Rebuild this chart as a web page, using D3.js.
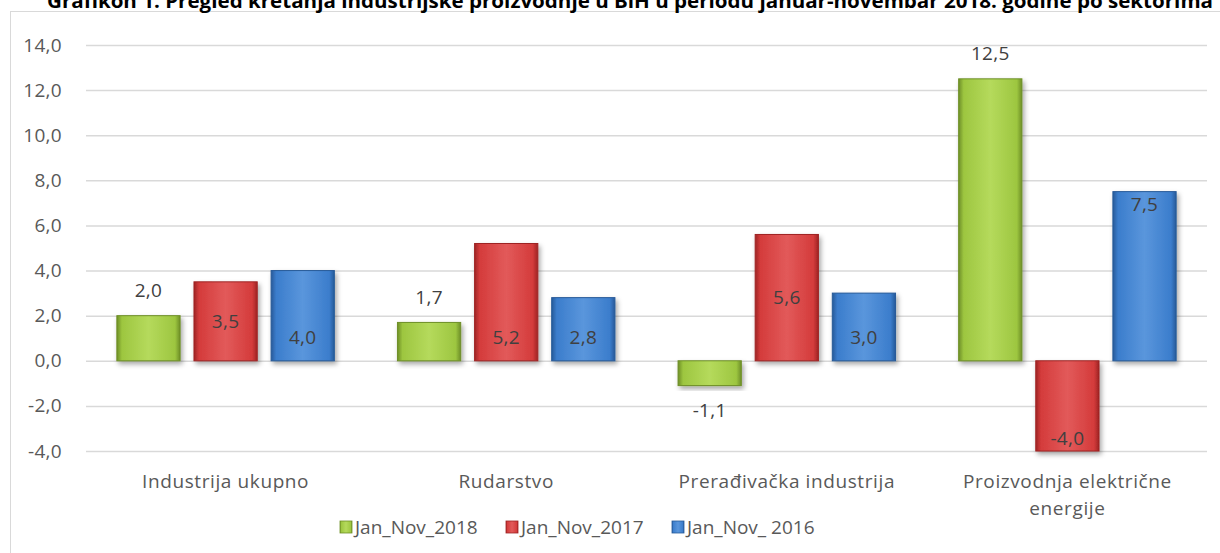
<!DOCTYPE html>
<html>
<head>
<meta charset="utf-8">
<script src="https://cdn.jsdelivr.net/npm/d3@7"></script>
<style>
  body { margin: 0; background: #fff; }
  svg { display: block; font-family: "Open Sans", "Noto Sans", sans-serif; }
</style>
</head>
<body>
<div id="chart"></div>
<script>
// chart data
const title = 'Grafikon 1. Pregled kretanja industrijske proizvodnje u BiH u periodu januar-novembar  2018. godine po sektorima';
const categories = ['Industrija ukupno', 'Rudarstvo', 'Prerađivačka industrija', 'Proizvodnja električne energije'];
const seriesNames = ['Jan_Nov_2018', 'Jan_Nov_2017', 'Jan_Nov_ 2016'];
const values2018 = [2.0, 1.7, -1.1, 12.5];
const values2017 = [3.5, 5.2, 5.6, -4.0];
const values2016 = [4.0, 2.8, 3.0, 7.5];
const yTicks = [-4, -2, 0, 2, 4, 6, 8, 10, 12, 14];

// how the data labels sit, like the excel chart
const labelModes2018 = ['outEnd', 'outEnd', 'outEnd', 'outEnd'];
const labelModes2017 = ['center', 'inBase', 'center', 'inEnd'];
const labelModes2016 = ['inBase', 'inBase', 'inBase', 'inEnd'];

const colors = [
    {base: '#9dc640', light: '#b5da5c', dark: '#6e8f27'},
    {base: '#d43b3b', light: '#e25a5a', dark: '#9e2424'},
    {base: '#3b7dcc', light: '#5a96dc', dark: '#275a99'}
];

const series = [
    {name: seriesNames[0], values: values2018, modes: labelModes2018},
    {name: seriesNames[1], values: values2017, modes: labelModes2017},
    {name: seriesNames[2], values: values2016, modes: labelModes2016}
];

const fmt = v => d3.format('.1f')(v).replace('.', ',').replace('\u2212', '-');

const width = 1220, height = 553;
const margin = {top: 45, right: 13, bottom: 102, left: 86};
const fontSize = 19;

const svg = d3.select('#chart').append('svg')
    .attr('width', width)
    .attr('height', height);

const defs = svg.append('defs');
colors.forEach((c, i) => {
    const g = defs.append('linearGradient')
        .attr('id', 'grad' + i)
        .attr('x1', 0).attr('x2', 1).attr('y1', 0).attr('y2', 0);
    g.append('stop').attr('offset', '0%').attr('stop-color', c.dark);
    g.append('stop').attr('offset', '8%').attr('stop-color', c.base);
    g.append('stop').attr('offset', '50%').attr('stop-color', c.light);
    g.append('stop').attr('offset', '92%').attr('stop-color', c.base);
    g.append('stop').attr('offset', '100%').attr('stop-color', c.dark);
});
const shadow = defs.append('filter').attr('id', 'shadow')
    .attr('x', '-20%').attr('y', '-20%').attr('width', '140%').attr('height', '140%');
shadow.append('feDropShadow')
    .attr('dx', 2).attr('dy', 3).attr('stdDeviation', 2.5)
    .attr('flood-color', '#000').attr('flood-opacity', 0.35);

// frame
svg.append('rect')
    .attr('x', 10.5).attr('y', 11.5)
    .attr('width', 1220).attr('height', 560)
    .attr('fill', 'none')
    .attr('stroke', '#d9d9d9');

// title, clipped at the top like the source
svg.append('text')
    .attr('x', 47).attr('y', 8)
    .attr('textLength', 1166)
    .attr('lengthAdjust', 'spacingAndGlyphs')
    .attr('font-weight', 'bold')
    .attr('font-size', 19)
    .attr('fill', '#000')
    .text(title);

const x0 = d3.scaleBand()
    .domain(categories)
    .range([margin.left, width - margin.right])
    .paddingInner(0.225)
    .paddingOuter(0.11);

const x1 = d3.scaleBand()
    .domain(d3.range(series.length))
    .range([0, x0.bandwidth()])
    .paddingInner(0.18)
    .paddingOuter(0);

const y = d3.scaleLinear()
    .domain([-4, 14])
    .range([height - margin.bottom, margin.top]);

// grid lines + tick labels
const yAxis = svg.append('g')
    .attr('transform', `translate(${margin.left},0)`)
    .call(d3.axisLeft(y)
        .tickValues(yTicks)
        .tickSize(-(width - margin.left - margin.right))
        .tickPadding(24)
        .tickFormat(fmt));
yAxis.select('.domain').remove();
yAxis.selectAll('.tick line').attr('stroke', '#d9d9d9').attr('stroke-width', 1.5);
yAxis.selectAll('.tick text')
    .attr('font-size', fontSize)
    .attr('font-family', '"Open Sans", sans-serif')
    .attr('letter-spacing', 0.3)
    .attr('fill', '#595959');

// bars
const groups = svg.append('g').selectAll('g')
    .data(series)
    .join('g');

groups.each(function (s, si) {
    const g = d3.select(this);
    const rows = s.values.map((v, ci) => ({v, cat: categories[ci], mode: s.modes[ci]}));

    g.selectAll('rect')
        .data(rows)
        .join('rect')
        .attr('x', d => x0(d.cat) + x1(si))
        .attr('y', d => y(Math.max(0, d.v)))
        .attr('width', x1.bandwidth())
        .attr('height', d => Math.abs(y(d.v) - y(0)))
        .attr('fill', `url(#grad${si})`)
        .attr('stroke', colors[si].dark)
        .attr('stroke-width', 1)
        .attr('filter', 'url(#shadow)');

    g.selectAll('text')
        .data(rows)
        .join('text')
        .attr('x', d => x0(d.cat) + x1(si) + x1.bandwidth() / 2)
        .attr('y', d => {
            const sign = d.v >= 0 ? 1 : -1;
            if (d.mode === 'outEnd') return y(d.v) - sign * 25;
            if (d.mode === 'inBase') return y(0) - sign * 23;
            if (d.mode === 'inEnd') return y(d.v) + sign * 13;
            return (y(d.v) + y(0)) / 2;
        })
        .attr('dy', '0.35em')
        .attr('text-anchor', 'middle')
        .attr('font-size', fontSize)
        .attr('letter-spacing', 0.3)
        .attr('fill', '#404040')
        .text(d => fmt(d.v));
});

// category labels
const catLabels = svg.append('g').selectAll('text')
    .data(categories)
    .join('text')
    .attr('x', d => x0(d) + x0.bandwidth() / 2)
    .attr('y', 488)
    .attr('text-anchor', 'middle')
    .attr('font-size', fontSize)
    .attr('letter-spacing', 0.6)
    .attr('fill', '#595959');

catLabels.each(function (d) {
    const t = d3.select(this);
    const words = d.split(' ');
    const lines = d.length > 25 ? [words.slice(0, 2).join(' '), words.slice(2).join(' ')] : [d];
    lines.forEach((line, i) => {
        t.append('tspan')
            .attr('x', x0(d) + x0.bandwidth() / 2)
            .attr('dy', i === 0 ? 0 : 27)
            .text(line);
    });
});

// legend
const legendX = [340, 506, 672];
const legend = svg.append('g').selectAll('g')
    .data(series)
    .join('g')
    .attr('transform', (d, i) => `translate(${legendX[i]},521)`);

legend.append('rect')
    .attr('width', 12).attr('height', 12)
    .attr('fill', (d, i) => `url(#grad${i})`)
    .attr('stroke', (d, i) => colors[i].dark)
    .attr('stroke-width', 0.8);

legend.append('text')
    .attr('x', 15).attr('y', 6)
    .attr('dy', '0.35em')
    .attr('font-size', fontSize)
    .attr('fill', '#595959')
    .text(d => d.name);
</script>
</body>
</html>
